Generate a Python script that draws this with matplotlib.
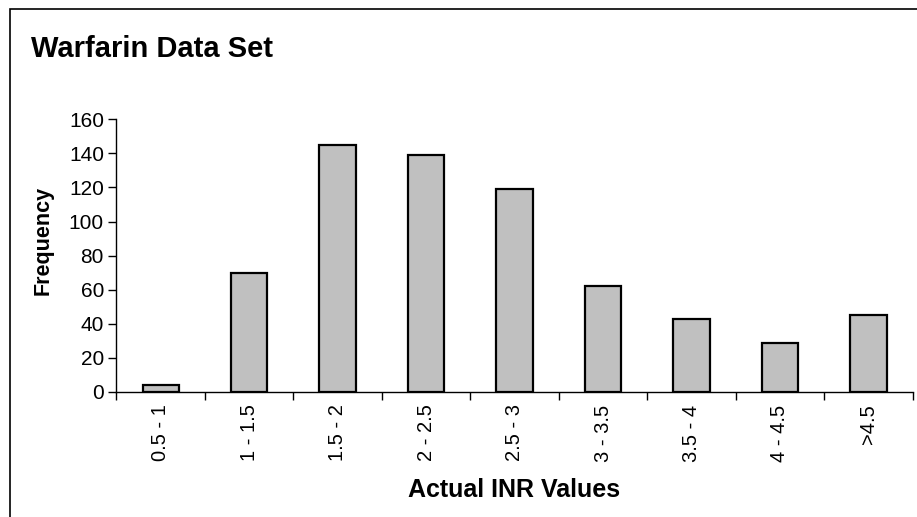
import matplotlib
matplotlib.use("Agg")
import matplotlib.pyplot as plt
from matplotlib.patches import Rectangle
import numpy as np

categories = ["0.5 - 1", "1 - 1.5", "1.5 - 2", "2 - 2.5", "2.5 - 3", "3 - 3.5", "3.5 - 4", "4 - 4.5", ">4.5"]
frequency = [4, 70, 145, 139, 119, 62, 43, 29, 45]
yticks = [0, 20, 40, 60, 80, 100, 120, 140, 160]

plt.rcParams['font.family'] = ['Liberation Sans', 'DejaVu Sans']

W, H = 917, 517
fig = plt.figure(figsize=(W / 100, H / 100), dpi=100)
ax = fig.add_axes([0.127, 0.2418, 0.9953 - 0.127, 0.7692 - 0.2418])

x = np.arange(len(categories))
ax.bar(x, frequency, width=0.41, color="#C0C0C0", edgecolor="black", linewidth=1.6)

ax.set_xlim(-0.5, len(categories) - 0.5)
ax.set_ylim(0, 160)
ax.set_yticks(yticks)
ax.set_yticklabels([str(v) for v in yticks], fontsize=15)

ax.set_xticks(np.arange(len(categories) + 1) - 0.5)
ax.set_xticklabels([])
ax.set_xticks(x, minor=True)
ax.set_xticklabels(categories, minor=True, rotation=90, fontsize=14.5)
ax.tick_params(axis='x', which='major', length=6, width=1, direction='out')
ax.tick_params(axis='x', which='minor', length=0, pad=9)
ax.tick_params(axis='y', length=6, width=1, direction='out', pad=3)

for s in ['top', 'right']:
    ax.spines[s].set_visible(False)
for s in ['left', 'bottom']:
    ax.spines[s].set_linewidth(1)

fig.text(43 / W, 1 - 240 / H, "Frequency", fontsize=15.5, fontweight='bold',
         rotation=90, ha='center', va='center')
fig.text(514 / W, 1 - 497 / H, "Actual INR Values", fontsize=18, fontweight='bold',
         ha='center', va='baseline')
fig.text(31 / W, 1 - 57 / H, "Warfarin Data Set", fontsize=21, fontweight='bold',
         ha='left', va='baseline')

fig.patches.append(Rectangle((10 / W, -0.1), 1.2, 1 - 9 / H + 0.1, transform=fig.transFigure,
                             fill=False, edgecolor='black', linewidth=1.2))

fig.savefig("out.png", dpi=100)
